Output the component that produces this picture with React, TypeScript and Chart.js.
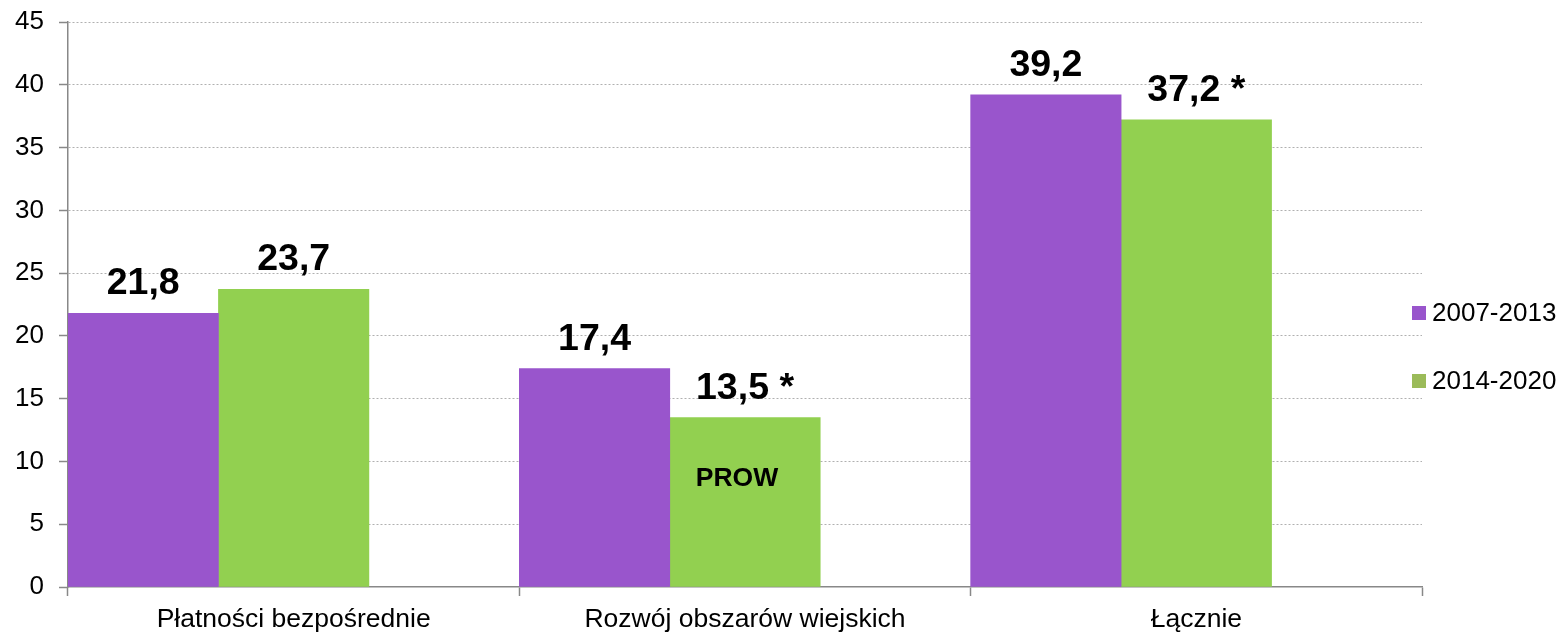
import React, { useEffect, useRef } from "react";
import { Chart, registerables } from "chart.js";

Chart.register(...registerables);

const categories = ["Płatności bezpośrednie", "Rozwój obszarów wiejskich", "Łącznie"];
const series2007 = [21.8, 17.4, 39.2];
const series2014 = [23.7, 13.5, 37.2];
const labels2007 = ["21,8", "17,4", "39,2"];
const labels2014 = ["23,7", "13,5 *", "37,2 *"];
const seriesNames = ["2007-2013", "2014-2020"];
const yTicks = [0, 5, 10, 15, 20, 25, 30, 35, 40, 45];
const innerLabel = { text: "PROW", category: 1, dataset: 1, value: 8.6 };

const PURPLE = "#9955CC";
const GREEN = "#92D050";
const LEGEND_COLORS = ["#9955CC", "#9BBB59"];
const FONT = "'Liberation Sans', Arial, sans-serif";

const labelPlugin = {
  id: "valueLabels",
  afterDatasetsDraw(chart: any) {
    const ctx = chart.ctx;
    const sets = [labels2007, labels2014];
    ctx.save();
    ctx.fillStyle = "#000";
    ctx.textAlign = "center";
    ctx.textBaseline = "alphabetic";
    ctx.font = `bold 37.5px ${FONT}`;
    sets.forEach((lbls, di) => {
      const meta = chart.getDatasetMeta(di);
      meta.data.forEach((bar: any, i: number) => {
        ctx.fillText(lbls[i], bar.x, bar.y - 19);
      });
    });
    const meta = chart.getDatasetMeta(innerLabel.dataset);
    const bar = meta.data[innerLabel.category];
    const y = chart.scales.y.getPixelForValue(innerLabel.value);
    ctx.font = `bold 26.5px ${FONT}`;
    ctx.textBaseline = "middle";
    ctx.fillText(innerLabel.text, bar.x - 8, y);
    ctx.restore();
  },
};

const legendPlugin = {
  id: "customLegend",
  afterDraw(chart: any) {
    const ctx = chart.ctx;
    const x0 = chart.chartArea.right - 10;
    const ys = [313, 381];
    ctx.save();
    ctx.font = `26px ${FONT}`;
    ctx.textBaseline = "middle";
    ctx.textAlign = "left";
    seriesNames.forEach((name, i) => {
      ctx.fillStyle = LEGEND_COLORS[i];
      ctx.fillRect(x0, ys[i] - 7, 14, 14);
      ctx.fillStyle = "#000";
      ctx.fillText(name, x0 + 20, ys[i] + 1);
    });
    ctx.restore();
  },
};

export default function App() {
  const ref = useRef<HTMLCanvasElement>(null);
  useEffect(() => {
    document.body.style.margin = "0";
    const chart = new Chart(ref.current!, {
      type: "bar",
      data: {
        labels: categories,
        datasets: [
          { label: seriesNames[0], data: series2007, backgroundColor: PURPLE },
          { label: seriesNames[1], data: series2014, backgroundColor: GREEN },
          { label: "", data: [null, null, null], backgroundColor: "transparent" },
        ],
      },
      options: {
        animation: false,
        responsive: false,
        events: [],
        layout: { padding: { left: 0, right: 145, top: 22, bottom: 0 } },
        datasets: { bar: { barPercentage: 1, categoryPercentage: 1 } },
        plugins: { legend: { display: false }, tooltip: { enabled: false } },
        scales: {
          x: {
            grid: {
              offset: true,
              drawOnChartArea: false,
              tickLength: 9,
              tickColor: "#888",
              tickWidth: 1.5,
            },
            border: { color: "#888", width: 1.5 },
            ticks: { color: "#000", font: { family: FONT, size: 26.5 }, padding: 8 },
            afterFit(scale: any) {
              scale.height = 49;
              scale.paddingLeft = 0;
              scale.paddingRight = 0;
            },
          },
          y: {
            min: 0,
            max: 45,
            afterBuildTicks(scale: any) {
              scale.ticks = yTicks.map((v) => ({ value: v }));
            },
            grid: {
              color: (c: any) => (c.tick && c.tick.value === 0 ? "rgba(0,0,0,0)" : "#b0b0b0"),
              lineWidth: 1,
              tickLength: 9,
              tickColor: "#888",
              tickWidth: 1.5,
            },
            border: { color: "#888", width: 1.5, dash: [2, 2] },
            ticks: { color: "#000", font: { family: FONT, size: 26 }, padding: 15 },
            afterFit(scale: any) {
              scale.width = 68;
              scale.paddingTop = 0;
              scale.paddingBottom = 0;
            },
          },
        },
      },
      plugins: [labelPlugin, legendPlugin],
    });
    return () => chart.destroy();
  }, []);
  return (
    <div style={{ width: 1567, height: 636 }}>
      <canvas ref={ref} width={1567} height={636} style={{ display: "block" }} />
    </div>
  );
}
